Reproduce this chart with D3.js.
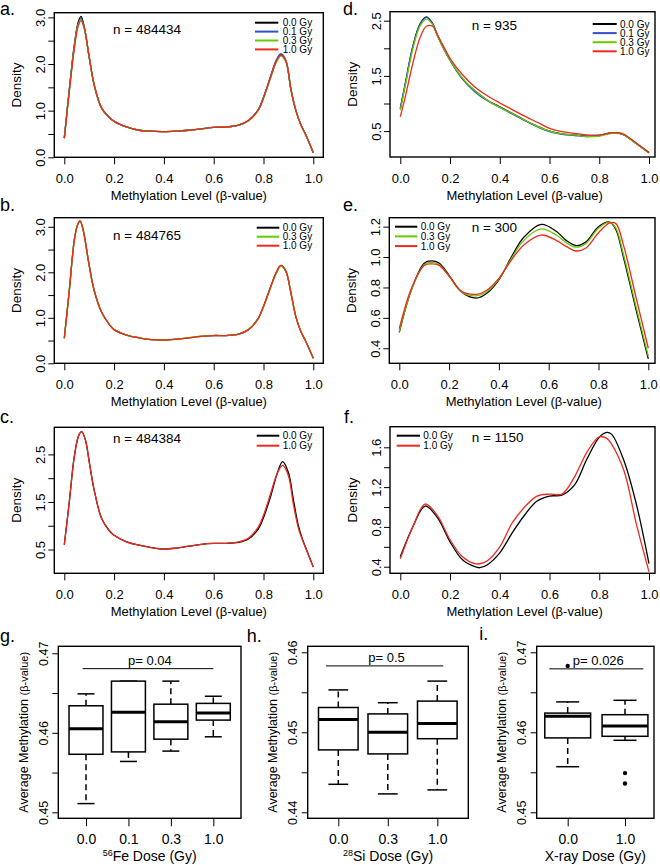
<!DOCTYPE html>
<html>
<head>
<meta charset="utf-8">
<script src="https://cdn.jsdelivr.net/npm/d3@7"></script>
<style>
  body { margin: 0; background: #fff; }
</style>
</head>
<body>
<div id="chart"></div>
<script>
const FONT = '"Liberation Sans", Arial, Helvetica, sans-serif'
const DOSE_COLORS = { "0.0 Gy": "#000000", "0.1 Gy": "#3050c8", "0.3 Gy": "#66cc00", "1.0 Gy": "#ee2a1e" }

// ---- density data ----
// a. 56Fe, all probes
const betaA = [0, 0.02, 0.04, 0.055, 0.067, 0.08, 0.1, 0.12, 0.15, 0.18, 0.2, 0.25, 0.3, 0.35, 0.4, 0.45, 0.5, 0.55, 0.6, 0.65, 0.7, 0.74, 0.78, 0.8, 0.83, 0.85, 0.87, 0.89, 0.91, 0.93, 0.95, 0.97, 1.0]
const a00 = [0.41, 1.45, 2.4, 2.88, 3.02, 2.8, 2.15, 1.55, 1.05, 0.86, 0.77, 0.65, 0.58, 0.56, 0.55, 0.56, 0.58, 0.61, 0.64, 0.65, 0.69, 0.79, 1.03, 1.28, 1.75, 2.05, 2.2, 2.06, 1.45, 1.0, 0.7, 0.48, 0.1]
const a01 = [0.41, 1.44, 2.38, 2.85, 2.98, 2.78, 2.14, 1.55, 1.05, 0.86, 0.77, 0.65, 0.58, 0.56, 0.55, 0.56, 0.58, 0.61, 0.64, 0.65, 0.69, 0.79, 1.03, 1.29, 1.76, 2.07, 2.22, 2.08, 1.47, 1.01, 0.7, 0.48, 0.1]
const a03 = [0.41, 1.42, 2.36, 2.83, 2.95, 2.77, 2.14, 1.55, 1.05, 0.86, 0.77, 0.65, 0.58, 0.56, 0.55, 0.56, 0.58, 0.61, 0.64, 0.65, 0.69, 0.78, 1.01, 1.26, 1.72, 2.02, 2.17, 2.05, 1.46, 1.0, 0.7, 0.48, 0.1]
const a10 = [0.41, 1.4, 2.32, 2.8, 2.93, 2.77, 2.15, 1.56, 1.06, 0.86, 0.77, 0.65, 0.58, 0.56, 0.55, 0.56, 0.58, 0.61, 0.64, 0.65, 0.69, 0.79, 1.02, 1.27, 1.74, 2.04, 2.19, 2.06, 1.46, 1.0, 0.7, 0.48, 0.1]

// b. 28Si, all probes
const betaB = [0, 0.02, 0.04, 0.052, 0.063, 0.075, 0.1, 0.12, 0.15, 0.18, 0.2, 0.25, 0.3, 0.35, 0.4, 0.45, 0.5, 0.55, 0.6, 0.65, 0.7, 0.74, 0.78, 0.8, 0.83, 0.85, 0.87, 0.89, 0.91, 0.93, 0.95, 0.97, 1.0]
const b00 = [0.55, 1.6, 2.7, 3.02, 3.13, 2.95, 2.15, 1.6, 1.12, 0.86, 0.74, 0.62, 0.56, 0.52, 0.51, 0.53, 0.56, 0.59, 0.61, 0.61, 0.64, 0.74, 1.0, 1.25, 1.7, 1.98, 2.15, 2.02, 1.55, 1.02, 0.7, 0.48, 0.11]
const b03 = [0.55, 1.6, 2.7, 3.02, 3.13, 2.95, 2.15, 1.6, 1.12, 0.86, 0.74, 0.62, 0.56, 0.52, 0.51, 0.53, 0.565, 0.595, 0.615, 0.61, 0.64, 0.74, 0.99, 1.24, 1.68, 1.96, 2.13, 2.02, 1.56, 1.03, 0.7, 0.48, 0.11]
const b10 = [0.55, 1.6, 2.7, 3.02, 3.13, 2.95, 2.15, 1.6, 1.12, 0.86, 0.74, 0.62, 0.56, 0.52, 0.51, 0.53, 0.56, 0.59, 0.61, 0.61, 0.64, 0.74, 1.0, 1.25, 1.7, 1.98, 2.15, 2.02, 1.55, 1.02, 0.7, 0.48, 0.11]

// c. X-ray, all probes
const betaC = [0, 0.02, 0.04, 0.058, 0.07, 0.085, 0.1, 0.12, 0.15, 0.18, 0.2, 0.25, 0.3, 0.35, 0.4, 0.45, 0.5, 0.55, 0.6, 0.65, 0.7, 0.74, 0.78, 0.8, 0.83, 0.855, 0.877, 0.9, 0.92, 0.94, 0.955, 0.97, 1.0]
const c00 = [0.6, 1.5, 2.45, 2.9, 2.98, 2.8, 2.35, 1.75, 1.15, 0.9, 0.8, 0.66, 0.59, 0.54, 0.51, 0.53, 0.57, 0.61, 0.63, 0.63, 0.65, 0.72, 0.94, 1.17, 1.64, 2.1, 2.35, 2.12, 1.55, 1.0, 0.74, 0.53, 0.13]
const c10 = [0.6, 1.5, 2.45, 2.9, 2.98, 2.8, 2.35, 1.75, 1.15, 0.9, 0.8, 0.66, 0.59, 0.54, 0.51, 0.53, 0.57, 0.61, 0.63, 0.63, 0.66, 0.74, 0.98, 1.22, 1.7, 2.1, 2.27, 2.05, 1.45, 0.95, 0.72, 0.52, 0.13]

// d. 56Fe, differentially methylated probes
const betaD = [0, 0.02, 0.05, 0.08, 0.105, 0.13, 0.15, 0.2, 0.25, 0.3, 0.35, 0.4, 0.45, 0.5, 0.55, 0.6, 0.65, 0.7, 0.75, 0.8, 0.85, 0.88, 0.9, 0.95, 1.0]
const d00 = [0.91, 1.36, 2.03, 2.45, 2.57, 2.45, 2.23, 1.79, 1.45, 1.23, 1.06, 0.94, 0.82, 0.7, 0.59, 0.5, 0.45, 0.43, 0.41, 0.42, 0.47, 0.46, 0.43, 0.27, 0.11]
const d01 = [0.9, 1.35, 2.02, 2.44, 2.56, 2.44, 2.22, 1.78, 1.44, 1.21, 1.05, 0.93, 0.81, 0.69, 0.58, 0.49, 0.44, 0.42, 0.4, 0.42, 0.47, 0.46, 0.43, 0.27, 0.11]
const d03 = [0.88, 1.32, 1.98, 2.41, 2.53, 2.43, 2.22, 1.79, 1.46, 1.23, 1.06, 0.93, 0.82, 0.7, 0.59, 0.5, 0.45, 0.43, 0.4, 0.41, 0.46, 0.46, 0.43, 0.27, 0.11]
const d10 = [0.76, 1.12, 1.72, 2.2, 2.4, 2.4, 2.24, 1.82, 1.52, 1.3, 1.14, 1.01, 0.89, 0.77, 0.66, 0.55, 0.49, 0.46, 0.43, 0.43, 0.47, 0.47, 0.44, 0.28, 0.11]

// e. 28Si, differentially methylated probes
const betaE = [0, 0.05, 0.1, 0.13, 0.16, 0.2, 0.25, 0.31, 0.35, 0.4, 0.45, 0.5, 0.57, 0.63, 0.67, 0.71, 0.75, 0.8, 0.845, 0.87, 0.9, 0.95, 1.0]
const e00 = [0.505, 0.79, 0.96, 0.975, 0.96, 0.88, 0.77, 0.73, 0.76, 0.85, 1.0, 1.13, 1.215, 1.17, 1.11, 1.075, 1.1, 1.2, 1.23, 1.18, 1.0, 0.66, 0.33]
const e03 = [0.51, 0.79, 0.95, 0.965, 0.95, 0.875, 0.77, 0.745, 0.77, 0.855, 0.99, 1.11, 1.185, 1.145, 1.095, 1.065, 1.09, 1.19, 1.23, 1.19, 1.02, 0.68, 0.35]
const e10 = [0.53, 0.8, 0.945, 0.955, 0.945, 0.875, 0.775, 0.755, 0.78, 0.86, 0.98, 1.08, 1.145, 1.11, 1.07, 1.04, 1.06, 1.16, 1.225, 1.22, 1.08, 0.74, 0.4]

// f. X-ray, differentially methylated probes
const betaF = [0, 0.05, 0.1, 0.15, 0.2, 0.25, 0.3, 0.32, 0.35, 0.4, 0.45, 0.5, 0.55, 0.6, 0.65, 0.7, 0.75, 0.8, 0.83, 0.85, 0.9, 0.95, 1.0]
const f00 = [0.5, 0.8, 1.01, 0.89, 0.65, 0.47, 0.4, 0.39, 0.42, 0.54, 0.74, 0.92, 1.06, 1.11, 1.12, 1.22, 1.48, 1.7, 1.75, 1.73, 1.46, 1.02, 0.43]
const f10 = [0.48, 0.8, 1.03, 0.91, 0.67, 0.5, 0.43, 0.43, 0.46, 0.6, 0.84, 1.0, 1.11, 1.13, 1.13, 1.3, 1.55, 1.705, 1.69, 1.63, 1.36, 0.82, 0.35]

// ---- box plot data (average methylation per sample) ----
const doseFe = ["0.0", "0.1", "0.3", "1.0"]
const feLow = [0.4511, 0.4564, 0.4577, 0.4595]
const feQ1 = [0.4573, 0.4576, 0.4592, 0.4616]
const feMed = [0.4605, 0.4626, 0.4614, 0.4625]
const feQ3 = [0.4634, 0.4665, 0.4636, 0.4637]
const feHigh = [0.4649, 0.4665, 0.4665, 0.4646]

const doseSi = ["0.0", "0.3", "1.0"]
const siLow = [0.4435, 0.4423, 0.4428]
const siQ1 = [0.4478, 0.4473, 0.4492]
const siMed = [0.4516, 0.4500, 0.4511]
const siQ3 = [0.4531, 0.4523, 0.4539]
const siHigh = [0.4553, 0.4537, 0.4564]

const doseX = ["0.0", "1.0"]
const xLow = [0.4557, 0.4590]
const xQ1 = [0.4593, 0.4595]
const xMed = [0.4620, 0.4608]
const xQ3 = [0.4624, 0.4622]
const xHigh = [0.4638, 0.4640]
const xOut = [[0.4683], [0.4549, 0.4536]]

const pValues = ["p= 0.04", "p= 0.5", "p= 0.026"]

const svg = d3.select("#chart").append("svg")
    .attr("width", 660).attr("height", 865)
    .style("font-family", FONT)

const densityPanels = [
    { letter: "a.", lx: 0, ly: 15, n: "n = 484434", nx: 113, ny: 33.5, x: betaA,
      series: [["0.0 Gy", a00], ["0.1 Gy", a01], ["0.3 Gy", a03], ["1.0 Gy", a10]],
      frame: [54.3, 12.7, 323.3, 157.3], xr: [64.3, 313.3], yd: [0, 3.1],
      ticks: [0, 0.5, 1, 1.5, 2, 2.5, 3], labels: [0, 1, 2, 3], fmt: ".1f",
      leg: { x1: 255, x2: 278.3, tx: 282.7, y0: 22.7, dy: 8.9 } },
    { letter: "b.", lx: 0, ly: 211, n: "n = 484765", nx: 113, ny: 240, x: betaB,
      series: [["0.0 Gy", b00], ["0.3 Gy", b03], ["1.0 Gy", b10]],
      frame: [54.3, 217.7, 323.3, 363.3], xr: [64.3, 313.3], yd: [0, 3.2],
      ticks: [0, 0.5, 1, 1.5, 2, 2.5, 3], labels: [0, 1, 2, 3], fmt: ".1f",
      leg: { x1: 256.7, x2: 279.3, tx: 282.7, y0: 227.7, dy: 9 } },
    { letter: "c.", lx: 0, ly: 423.3, n: "n = 484384", nx: 113, ny: 443.3, x: betaC,
      series: [["0.0 Gy", c00], ["1.0 Gy", c10]],
      frame: [54.3, 427.3, 323.3, 573.3], xr: [64.3, 313.3], yd: [0, 3.07],
      ticks: [0.5, 1, 1.5, 2, 2.5], labels: [0.5, 1.5, 2.5], fmt: ".1f",
      leg: { x1: 256.7, x2: 279.3, tx: 282.7, y0: 435.7, dy: 10 } },
    { letter: "d.", lx: 343, ly: 15, n: "n = 935", nx: 471.7, ny: 30, x: betaD,
      series: [["0.0 Gy", d00], ["0.1 Gy", d01], ["0.3 Gy", d03], ["1.0 Gy", d10]],
      frame: [390, 11.7, 655, 157], xr: [400.3, 649], yd: [0.031, 2.663],
      ticks: [0.5, 1, 1.5, 2, 2.5], labels: [0.5, 1.5, 2.5], fmt: ".1f",
      leg: { x1: 592.7, x2: 616.7, tx: 620, y0: 24, dy: 9.1 } },
    { letter: "e.", lx: 343, ly: 211, n: "n = 300", nx: 471.7, ny: 231.7, x: betaE,
      series: [["0.0 Gy", e00], ["0.3 Gy", e03], ["1.0 Gy", e10]],
      frame: [389.3, 217.7, 655, 363.3], xr: [399.3, 648.3], yd: [0.301, 1.259],
      ticks: [0.4, 0.6, 0.8, 1.0, 1.2], labels: [0.4, 0.6, 0.8, 1.0, 1.2], fmt: ".1f",
      leg: { x1: 395, x2: 417.3, tx: 420.7, y0: 226.7, dy: 9.7 } },
    { letter: "f.", lx: 344, ly: 423.3, n: "n = 1150", nx: 471.7, ny: 441.7, x: betaF,
      series: [["0.0 Gy", f00], ["1.0 Gy", f10]],
      frame: [390, 426.7, 655, 573.3], xr: [400.3, 649], yd: [0.334, 1.807],
      ticks: [0.4, 0.6, 0.8, 1.0, 1.2, 1.4, 1.6], labels: [0.4, 0.8, 1.2, 1.6], fmt: ".1f",
      leg: { x1: 396.7, x2: 420, tx: 423.3, y0: 435.7, dy: 10 } }
]

const boxPanels = [
    { letter: "g.", lx: 0, ly: 641.7, cats: doseFe, low: feLow, q1: feQ1, med: feMed, q3: feQ3, high: feHigh, out: [],
      frame: [58.3, 646.3, 241, 818.3], xr: [86, 213.3], yd: [0.44925, 0.47088],
      ticks: [0.45, 0.455, 0.46, 0.465, 0.47], labels: [0.45, 0.46, 0.47],
      p: pValues[0], pFrom: -0.08, pTo: 3.0, pY: 0.46807, title: ["56", "Fe Dose (Gy)"] },
    { letter: "h.", lx: 246.7, ly: 641.7, cats: doseSi, low: siLow, q1: siQ1, med: siMed, q3: siQ3, high: siHigh, out: [],
      frame: [307.7, 646.3, 468.3, 818.3], xr: [338.3, 437.3], yd: [0.43925, 0.46075],
      ticks: [0.44, 0.445, 0.45, 0.455, 0.46], labels: [0.44, 0.45, 0.46],
      p: pValues[1], pFrom: -0.25, pTo: 2.12, pY: 0.4583, title: ["28", "Si Dose (Gy)"] },
    { letter: "i.", lx: 479.3, ly: 640, cats: doseX, low: xLow, q1: xQ1, med: xMed, q3: xQ3, high: xHigh, out: xOut,
      frame: [536.7, 646.3, 654, 818.3], xr: [567.7, 625], yd: [0.44925, 0.47075],
      ticks: [0.45, 0.455, 0.46, 0.465, 0.47], labels: [0.45, 0.46, 0.47],
      p: pValues[2], pFrom: -0.32, pTo: 1.32, pY: 0.46793, title: ["", "X-ray Dose (Gy)"] }
]

densityPanels.forEach(drawDensity)
boxPanels.forEach(drawBox)

function panelLetter(p) {
    svg.append("text").attr("x", p.lx).attr("y", p.ly)
        .attr("font-size", 18).text(p.letter)
}

function styleAxis(ax, size) {
    ax.attr("font-family", FONT).attr("font-size", size)
    ax.select(".domain").remove()
    ax.selectAll(".tick line").attr("stroke-width", 1)
}

function drawDensity(p) {
    let [l, t, r, b] = p.frame
    let x = d3.scaleLinear().domain([0, 1]).range(p.xr)
    let y = d3.scaleLinear().domain(p.yd).range([b, t])
    let fmt = d3.format(p.fmt)

    panelLetter(p)

    // x axis
    svg.append("g")
        .attr("transform", `translate(0,${b})`)
        .call(d3.axisBottom(x).tickValues([0, 0.2, 0.4, 0.6, 0.8, 1]).tickFormat(d3.format(".1f")).tickSize(7))
        .call(ax => {
            styleAxis(ax, 13)
            ax.selectAll("text").attr("y", 25.5).attr("dy", 0)
        })

    // y axis, labels rotated like R's las=0
    svg.append("g")
        .attr("transform", `translate(${l},0)`)
        .call(d3.axisLeft(y).tickValues(p.ticks).tickFormat(d => p.labels.includes(d) ? fmt(d) : "").tickSize(6))
        .call(ax => {
            styleAxis(ax, 13)
            ax.selectAll("text").attr("transform", "rotate(-90)")
                .attr("x", 0).attr("y", -9).attr("dy", 0).attr("text-anchor", "middle")
        })

    // curves, drawn in legend order so 1.0 Gy ends on top
    let line = d3.line()
        .x((d, i) => x(p.x[i]))
        .y(d => y(d))
        .curve(d3.curveCatmullRom.alpha(0.5))

    svg.append("g").selectAll("path")
        .data(p.series)
        .enter()
        .append("path")
        .attr("d", d => line(d[1]))
        .attr("fill", "none")
        .attr("stroke", d => DOSE_COLORS[d[0]])
        .attr("stroke-width", 1.3)

    svg.append("rect")
        .attr("x", l).attr("y", t).attr("width", r - l).attr("height", b - t)
        .attr("fill", "none").attr("stroke", "#000").attr("stroke-width", 1.4)

    // n label
    svg.append("text").attr("x", p.nx).attr("y", p.ny).attr("font-size", 13.5).text(p.n)

    // legend
    let leg = svg.append("g").selectAll("g")
        .data(p.series)
        .enter()
        .append("g")
        .attr("transform", (d, i) => `translate(0,${p.leg.y0 + i * p.leg.dy})`)
    leg.append("line")
        .attr("x1", p.leg.x1).attr("x2", p.leg.x2)
        .attr("stroke", d => DOSE_COLORS[d[0]]).attr("stroke-width", 2)
    leg.append("text")
        .attr("x", p.leg.tx).attr("y", 3.5)
        .attr("font-size", 10)
        .text(d => d[0])

    // axis titles
    svg.append("text")
        .attr("x", (p.xr[0] + p.xr[1]) / 2).attr("y", b + 43)
        .attr("text-anchor", "middle").attr("font-size", 13)
        .text("Methylation Level (β-value)")
    svg.append("text")
        .attr("transform", `translate(${l - 33},${(t + b) / 2}) rotate(-90)`)
        .attr("text-anchor", "middle").attr("font-size", 13.5)
        .text("Density")
}

function drawBox(p) {
    let [l, t, r, b] = p.frame
    let x = d3.scalePoint().domain(p.cats).range(p.xr)
    let xi = d3.scaleLinear().domain([0, p.cats.length - 1]).range(p.xr)
    let y = d3.scaleLinear().domain(p.yd).range([b, t])
    let bw = 0.8 * x.step()
    let fmt = d3.format(".2f")

    panelLetter(p)

    svg.append("g")
        .attr("transform", `translate(0,${b})`)
        .call(d3.axisBottom(x).tickSize(8))
        .call(ax => {
            styleAxis(ax, 14)
            ax.selectAll("text").attr("y", 26).attr("dy", 0)
        })

    svg.append("g")
        .attr("transform", `translate(${l},0)`)
        .call(d3.axisLeft(y).tickValues(p.ticks).tickFormat(d => p.labels.includes(d) ? fmt(d) : "").tickSize(6))
        .call(ax => {
            styleAxis(ax, 12.5)
            ax.selectAll("text").attr("transform", "rotate(-90)")
                .attr("x", 0).attr("y", -10.5).attr("dy", 0).attr("text-anchor", "middle")
        })

    let boxes = svg.append("g").selectAll("g")
        .data(p.cats)
        .enter()
        .append("g")
        .attr("transform", d => `translate(${x(d)},0)`)

    // whiskers
    boxes.append("line")
        .attr("y1", (d, i) => y(p.q3[i])).attr("y2", (d, i) => y(p.high[i]))
    boxes.append("line")
        .attr("y1", (d, i) => y(p.q1[i])).attr("y2", (d, i) => y(p.low[i]))
    boxes.selectAll("line")
        .attr("stroke", "#000").attr("stroke-width", 1.5).attr("stroke-dasharray", "6,4")

    // staples
    boxes.append("line")
        .attr("x1", -bw / 4).attr("x2", bw / 4)
        .attr("y1", (d, i) => y(p.high[i])).attr("y2", (d, i) => y(p.high[i]))
        .attr("stroke", "#000").attr("stroke-width", 1.5)
    boxes.append("line")
        .attr("x1", -bw / 4).attr("x2", bw / 4)
        .attr("y1", (d, i) => y(p.low[i])).attr("y2", (d, i) => y(p.low[i]))
        .attr("stroke", "#000").attr("stroke-width", 1.5)

    boxes.append("rect")
        .attr("x", -bw / 2).attr("width", bw)
        .attr("y", (d, i) => y(p.q3[i]))
        .attr("height", (d, i) => y(p.q1[i]) - y(p.q3[i]))
        .attr("fill", "#fff").attr("stroke", "#000").attr("stroke-width", 1.5)

    boxes.append("line")
        .attr("x1", -bw / 2).attr("x2", bw / 2)
        .attr("y1", (d, i) => y(p.med[i])).attr("y2", (d, i) => y(p.med[i]))
        .attr("stroke", "#000").attr("stroke-width", 3)

    // outliers
    p.out.forEach((vals, i) => {
        svg.append("g").selectAll("circle")
            .data(vals)
            .enter()
            .append("circle")
            .attr("cx", x(p.cats[i])).attr("cy", d => y(d))
            .attr("r", 2.2).attr("fill", "#000")
    })

    svg.append("rect")
        .attr("x", l).attr("y", t).attr("width", r - l).attr("height", b - t)
        .attr("fill", "none").attr("stroke", "#000").attr("stroke-width", 1.4)

    // p-value bracket
    svg.append("line")
        .attr("x1", xi(p.pFrom)).attr("x2", xi(p.pTo))
        .attr("y1", y(p.pY)).attr("y2", y(p.pY))
        .attr("stroke", "#000").attr("stroke-width", 1)
    svg.append("text")
        .attr("x", (xi(p.pFrom) + xi(p.pTo)) / 2 + 2).attr("y", y(p.pY) - 3.5)
        .attr("text-anchor", "middle").attr("font-size", 13)
        .text(p.p)

    // axis titles
    let title = svg.append("text")
        .attr("x", (l + r) / 2).attr("y", 861)
        .attr("text-anchor", "middle").attr("font-size", 14)
    if (p.title[0]) {
        title.append("tspan").attr("font-size", 9).attr("dy", -5).text(p.title[0])
        title.append("tspan").attr("dy", 5).text(p.title[1])
    } else {
        title.text(p.title[1])
    }

    let ytitle = svg.append("text")
        .attr("transform", `translate(${l - 30.5},${(t + b) / 2}) rotate(-90)`)
        .attr("text-anchor", "middle").attr("font-size", 12.5)
    ytitle.append("tspan").text("Average Methylation ")
    ytitle.append("tspan").attr("font-size", 11).text("(β-value)")
}
</script>
</body>
</html>
